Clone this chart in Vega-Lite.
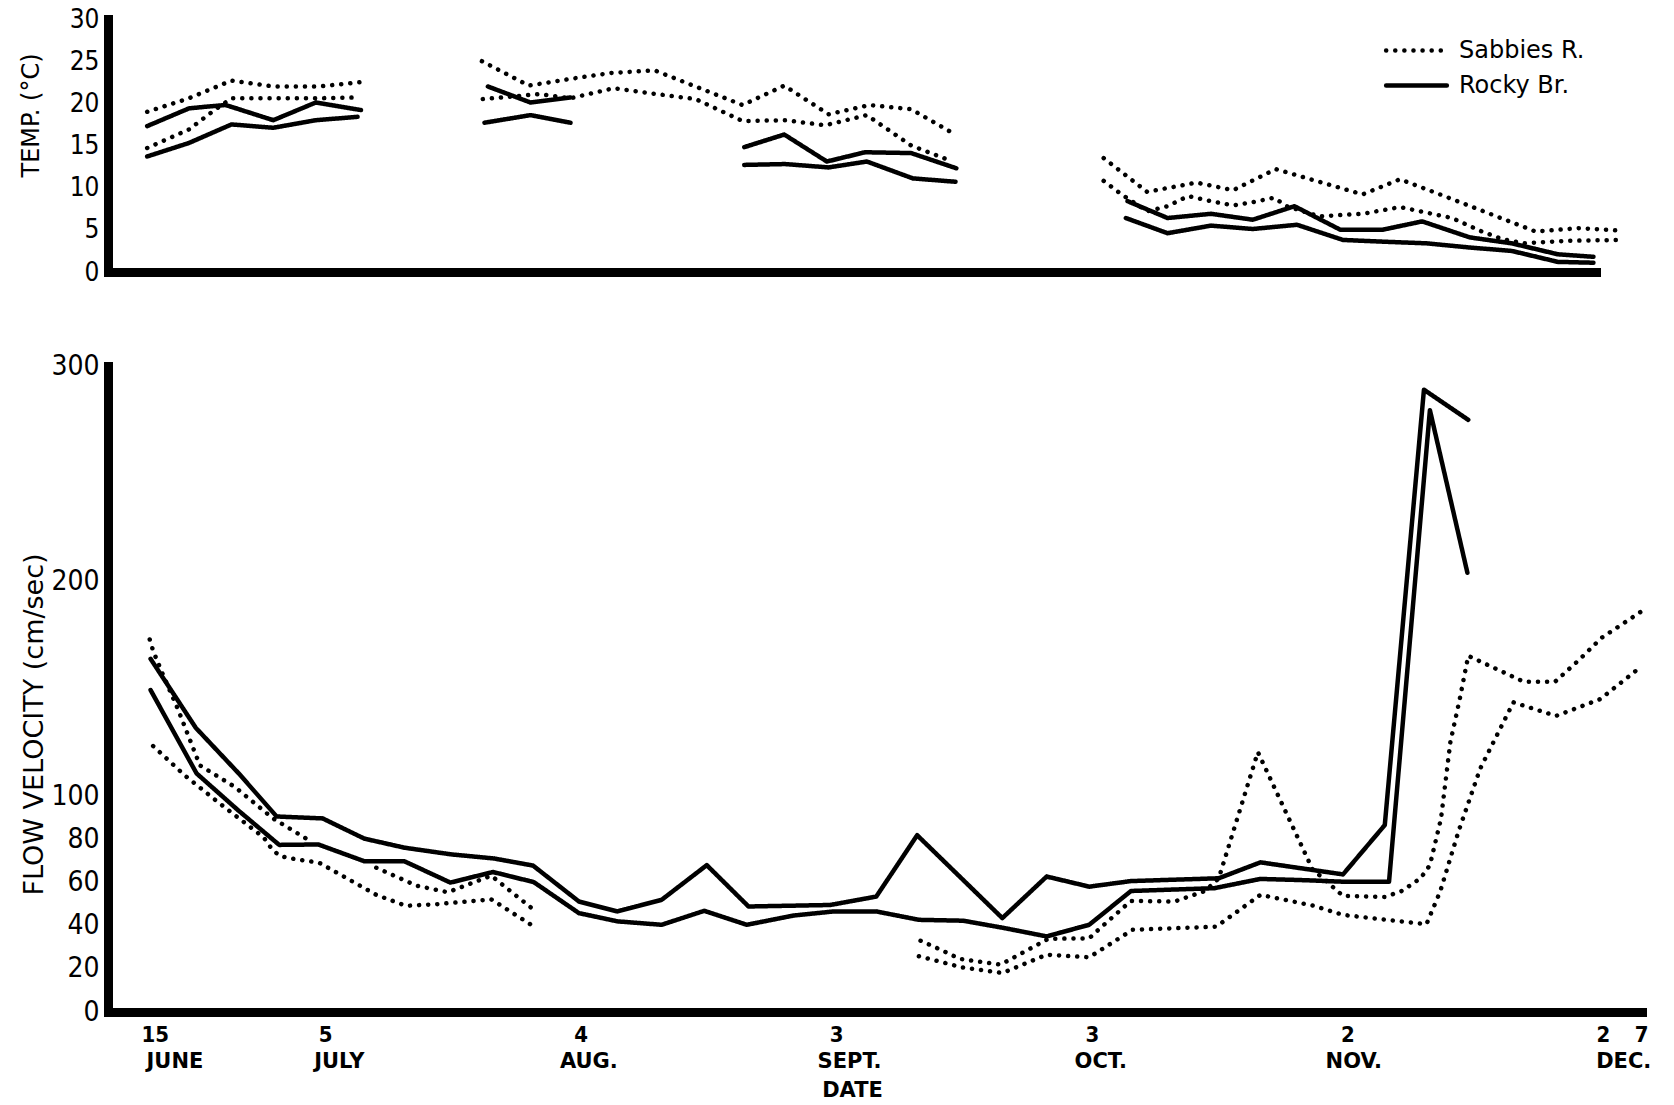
{
  "$schema": "https://vega.github.io/schema/vega-lite/v6.json",
  "background": "white",
  "padding": {"left": 19, "top": 6, "right": 5, "bottom": 5},
  "spacing": 67,
  "config": {
    "view": {"stroke": null},
    "font": "DejaVu Sans Condensed",
    "axis": {
      "grid": false, "ticks": false, "tickSize": 0,
      "domainColor": "black", "domainWidth": 9, "domainCap": "square",
      "labelColor": "black", "titleColor": "black",
      "labelFont": "DejaVu Sans Condensed", "titleFont": "DejaVu Sans"
    }
  },
  "datasets": {
    "temp": [
      {"s":"Su1","r":"Sabbies R.","d":-0.9,"t":19.0},{"s":"Su1","r":"Sabbies R.","d":4.0,"t":20.6},{"s":"Su1","r":"Sabbies R.","d":9.0,"t":22.7},{"s":"Su1","r":"Sabbies R.","d":13.9,"t":22.0},{"s":"Su1","r":"Sabbies R.","d":19.3,"t":22.0},{"s":"Su1","r":"Sabbies R.","d":24.1,"t":22.5},
      {"s":"Sl1","r":"Sabbies R.","d":-0.9,"t":14.7},{"s":"Sl1","r":"Sabbies R.","d":4.0,"t":16.9},{"s":"Sl1","r":"Sabbies R.","d":7.0,"t":19.2},{"s":"Sl1","r":"Sabbies R.","d":9.0,"t":20.6},{"s":"Sl1","r":"Sabbies R.","d":14.0,"t":20.6},{"s":"Sl1","r":"Sabbies R.","d":19.0,"t":20.6},{"s":"Sl1","r":"Sabbies R.","d":24.0,"t":20.7},
      {"s":"Su2","r":"Sabbies R.","d":38.4,"t":25.0},{"s":"Su2","r":"Sabbies R.","d":43.9,"t":22.1},{"s":"Su2","r":"Sabbies R.","d":48.8,"t":22.9},{"s":"Su2","r":"Sabbies R.","d":53.5,"t":23.6},{"s":"Su2","r":"Sabbies R.","d":58.7,"t":23.9},{"s":"Su2","r":"Sabbies R.","d":69.0,"t":19.8},{"s":"Su2","r":"Sabbies R.","d":73.9,"t":22.1},{"s":"Su2","r":"Sabbies R.","d":79.1,"t":18.7},{"s":"Su2","r":"Sabbies R.","d":83.9,"t":19.8},{"s":"Su2","r":"Sabbies R.","d":88.8,"t":19.3},{"s":"Su2","r":"Sabbies R.","d":93.8,"t":16.4},
      {"s":"Sl2","r":"Sabbies R.","d":38.5,"t":20.5},{"s":"Sl2","r":"Sabbies R.","d":45.2,"t":21.1},{"s":"Sl2","r":"Sabbies R.","d":48.8,"t":20.6},{"s":"Sl2","r":"Sabbies R.","d":53.9,"t":21.8},{"s":"Sl2","r":"Sabbies R.","d":58.9,"t":21.1},{"s":"Sl2","r":"Sabbies R.","d":63.5,"t":20.5},{"s":"Sl2","r":"Sabbies R.","d":69.0,"t":17.9},{"s":"Sl2","r":"Sabbies R.","d":74.0,"t":18.0},{"s":"Sl2","r":"Sabbies R.","d":78.7,"t":17.4},{"s":"Sl2","r":"Sabbies R.","d":83.6,"t":18.6},{"s":"Sl2","r":"Sabbies R.","d":88.8,"t":15.0},{"s":"Sl2","r":"Sabbies R.","d":93.4,"t":13.2},
      {"s":"Su3","r":"Sabbies R.","d":111.4,"t":13.5},{"s":"Su3","r":"Sabbies R.","d":116.5,"t":9.5},{"s":"Su3","r":"Sabbies R.","d":122.3,"t":10.6},{"s":"Su3","r":"Sabbies R.","d":126.6,"t":9.7},{"s":"Su3","r":"Sabbies R.","d":131.6,"t":12.2},{"s":"Su3","r":"Sabbies R.","d":141.8,"t":9.2},{"s":"Su3","r":"Sabbies R.","d":146.2,"t":11.0},{"s":"Su3","r":"Sabbies R.","d":151.4,"t":9.0},{"s":"Su3","r":"Sabbies R.","d":156.5,"t":7.0},{"s":"Su3","r":"Sabbies R.","d":162.1,"t":4.8},{"s":"Su3","r":"Sabbies R.","d":167.2,"t":5.2},{"s":"Su3","r":"Sabbies R.","d":172.2,"t":4.9},
      {"s":"Sl3","r":"Sabbies R.","d":111.4,"t":10.8},{"s":"Sl3","r":"Sabbies R.","d":113.5,"t":9.2},{"s":"Sl3","r":"Sabbies R.","d":116.5,"t":7.2},{"s":"Sl3","r":"Sabbies R.","d":118.9,"t":7.8},{"s":"Sl3","r":"Sabbies R.","d":121.3,"t":9.0},{"s":"Sl3","r":"Sabbies R.","d":124.0,"t":8.4},{"s":"Sl3","r":"Sabbies R.","d":126.6,"t":7.9},{"s":"Sl3","r":"Sabbies R.","d":129.0,"t":8.3},{"s":"Sl3","r":"Sabbies R.","d":131.4,"t":8.8},{"s":"Sl3","r":"Sabbies R.","d":132.9,"t":7.8},{"s":"Sl3","r":"Sabbies R.","d":136.7,"t":6.6},{"s":"Sl3","r":"Sabbies R.","d":141.8,"t":6.9},{"s":"Sl3","r":"Sabbies R.","d":146.2,"t":7.7},{"s":"Sl3","r":"Sabbies R.","d":152.3,"t":6.4},{"s":"Sl3","r":"Sabbies R.","d":155.8,"t":4.8},{"s":"Sl3","r":"Sabbies R.","d":158.2,"t":3.9},{"s":"Sl3","r":"Sabbies R.","d":160.7,"t":3.4},{"s":"Sl3","r":"Sabbies R.","d":165.9,"t":3.7},{"s":"Sl3","r":"Sabbies R.","d":171.7,"t":3.8},
      {"s":"Ru1","r":"Rocky Br.","d":-0.9,"t":17.3},{"s":"Ru1","r":"Rocky Br.","d":4.0,"t":19.4},{"s":"Ru1","r":"Rocky Br.","d":6.0,"t":19.6},{"s":"Ru1","r":"Rocky Br.","d":8.3,"t":19.8},{"s":"Ru1","r":"Rocky Br.","d":13.9,"t":18.0},{"s":"Ru1","r":"Rocky Br.","d":18.9,"t":20.1},{"s":"Ru1","r":"Rocky Br.","d":24.2,"t":19.2},
      {"s":"Rl1","r":"Rocky Br.","d":-0.9,"t":13.7},{"s":"Rl1","r":"Rocky Br.","d":4.0,"t":15.3},{"s":"Rl1","r":"Rocky Br.","d":9.0,"t":17.5},{"s":"Rl1","r":"Rocky Br.","d":13.9,"t":17.1},{"s":"Rl1","r":"Rocky Br.","d":18.9,"t":18.0},{"s":"Rl1","r":"Rocky Br.","d":23.8,"t":18.4},
      {"s":"Ru2","r":"Rocky Br.","d":39.1,"t":22.0},{"s":"Ru2","r":"Rocky Br.","d":44.1,"t":20.1},{"s":"Ru2","r":"Rocky Br.","d":48.8,"t":20.7},
      {"s":"Rl2","r":"Rocky Br.","d":38.7,"t":17.7},{"s":"Rl2","r":"Rocky Br.","d":44.1,"t":18.6},{"s":"Rl2","r":"Rocky Br.","d":48.8,"t":17.7},
      {"s":"Ru3","r":"Rocky Br.","d":69.2,"t":14.8},{"s":"Ru3","r":"Rocky Br.","d":73.9,"t":16.3},{"s":"Ru3","r":"Rocky Br.","d":78.9,"t":13.1},{"s":"Ru3","r":"Rocky Br.","d":83.4,"t":14.2},{"s":"Ru3","r":"Rocky Br.","d":88.8,"t":14.1},{"s":"Ru3","r":"Rocky Br.","d":94.1,"t":12.3},
      {"s":"Rl3","r":"Rocky Br.","d":69.2,"t":12.7},{"s":"Rl3","r":"Rocky Br.","d":74.0,"t":12.8},{"s":"Rl3","r":"Rocky Br.","d":79.1,"t":12.4},{"s":"Rl3","r":"Rocky Br.","d":83.6,"t":13.1},{"s":"Rl3","r":"Rocky Br.","d":89.0,"t":11.1},{"s":"Rl3","r":"Rocky Br.","d":94.0,"t":10.7},
      {"s":"Ru4","r":"Rocky Br.","d":114.2,"t":8.4},{"s":"Ru4","r":"Rocky Br.","d":118.9,"t":6.4},{"s":"Ru4","r":"Rocky Br.","d":124.0,"t":6.9},{"s":"Ru4","r":"Rocky Br.","d":128.9,"t":6.2},{"s":"Ru4","r":"Rocky Br.","d":133.8,"t":7.8},{"s":"Ru4","r":"Rocky Br.","d":139.2,"t":5.0},{"s":"Ru4","r":"Rocky Br.","d":144.1,"t":5.0},{"s":"Ru4","r":"Rocky Br.","d":148.8,"t":6.0},{"s":"Ru4","r":"Rocky Br.","d":154.4,"t":4.1},{"s":"Ru4","r":"Rocky Br.","d":159.3,"t":3.4},{"s":"Ru4","r":"Rocky Br.","d":164.7,"t":2.1},{"s":"Ru4","r":"Rocky Br.","d":168.9,"t":1.8},
      {"s":"Rl4","r":"Rocky Br.","d":114.0,"t":6.4},{"s":"Rl4","r":"Rocky Br.","d":118.9,"t":4.6},{"s":"Rl4","r":"Rocky Br.","d":124.0,"t":5.5},{"s":"Rl4","r":"Rocky Br.","d":128.9,"t":5.1},{"s":"Rl4","r":"Rocky Br.","d":134.1,"t":5.6},{"s":"Rl4","r":"Rocky Br.","d":139.5,"t":3.8},{"s":"Rl4","r":"Rocky Br.","d":144.1,"t":3.6},{"s":"Rl4","r":"Rocky Br.","d":149.3,"t":3.4},{"s":"Rl4","r":"Rocky Br.","d":154.4,"t":2.9},{"s":"Rl4","r":"Rocky Br.","d":159.3,"t":2.5},{"s":"Rl4","r":"Rocky Br.","d":164.7,"t":1.2},{"s":"Rl4","r":"Rocky Br.","d":168.9,"t":1.1}
    ],
    "flow": [
      {"s":"Ru","r":"Rocky Br.","d":-0.5,"v":164},{"s":"Ru","r":"Rocky Br.","d":4.8,"v":132},{"s":"Ru","r":"Rocky Br.","d":9.8,"v":111},{"s":"Ru","r":"Rocky Br.","d":14.3,"v":90.8},{"s":"Ru","r":"Rocky Br.","d":19.7,"v":89.9},{"s":"Ru","r":"Rocky Br.","d":24.6,"v":80.5},{"s":"Ru","r":"Rocky Br.","d":29.3,"v":76.3},{"s":"Ru","r":"Rocky Br.","d":34.8,"v":73.2},{"s":"Ru","r":"Rocky Br.","d":39.8,"v":71.3},{"s":"Ru","r":"Rocky Br.","d":44.4,"v":68.0},{"s":"Ru","r":"Rocky Br.","d":49.8,"v":51.3},{"s":"Ru","r":"Rocky Br.","d":54.3,"v":46.7},{"s":"Ru","r":"Rocky Br.","d":59.5,"v":52.1},{"s":"Ru","r":"Rocky Br.","d":64.8,"v":68.2},{"s":"Ru","r":"Rocky Br.","d":69.7,"v":49.0},{"s":"Ru","r":"Rocky Br.","d":79.3,"v":49.7},{"s":"Ru","r":"Rocky Br.","d":84.7,"v":53.6},{"s":"Ru","r":"Rocky Br.","d":89.5,"v":82.1},{"s":"Ru","r":"Rocky Br.","d":99.5,"v":43.6},{"s":"Ru","r":"Rocky Br.","d":104.7,"v":62.9},{"s":"Ru","r":"Rocky Br.","d":109.7,"v":58.2},{"s":"Ru","r":"Rocky Br.","d":114.6,"v":60.8},{"s":"Ru","r":"Rocky Br.","d":124.9,"v":62.1},{"s":"Ru","r":"Rocky Br.","d":129.8,"v":69.5},{"s":"Ru","r":"Rocky Br.","d":139.5,"v":63.9},{"s":"Ru","r":"Rocky Br.","d":144.4,"v":86.8},{"s":"Ru","r":"Rocky Br.","d":149.0,"v":289},{"s":"Ru","r":"Rocky Br.","d":154.2,"v":275},
      {"s":"Rl","r":"Rocky Br.","d":-0.5,"v":149.5},{"s":"Rl","r":"Rocky Br.","d":4.9,"v":110.8},{"s":"Rl","r":"Rocky Br.","d":9.8,"v":93.6},{"s":"Rl","r":"Rocky Br.","d":14.6,"v":77.6},{"s":"Rl","r":"Rocky Br.","d":19.2,"v":77.8},{"s":"Rl","r":"Rocky Br.","d":24.6,"v":70.0},{"s":"Rl","r":"Rocky Br.","d":29.3,"v":70.0},{"s":"Rl","r":"Rocky Br.","d":34.7,"v":60.1},{"s":"Rl","r":"Rocky Br.","d":39.7,"v":65.0},{"s":"Rl","r":"Rocky Br.","d":44.5,"v":60.3},{"s":"Rl","r":"Rocky Br.","d":49.8,"v":45.9},{"s":"Rl","r":"Rocky Br.","d":54.3,"v":42.1},{"s":"Rl","r":"Rocky Br.","d":59.5,"v":40.5},{"s":"Rl","r":"Rocky Br.","d":64.5,"v":47.0},{"s":"Rl","r":"Rocky Br.","d":69.5,"v":40.5},{"s":"Rl","r":"Rocky Br.","d":75.0,"v":44.8},{"s":"Rl","r":"Rocky Br.","d":79.7,"v":46.7},{"s":"Rl","r":"Rocky Br.","d":84.7,"v":46.7},{"s":"Rl","r":"Rocky Br.","d":89.7,"v":42.8},{"s":"Rl","r":"Rocky Br.","d":94.9,"v":42.4},{"s":"Rl","r":"Rocky Br.","d":99.7,"v":39.0},{"s":"Rl","r":"Rocky Br.","d":104.7,"v":35.1},{"s":"Rl","r":"Rocky Br.","d":109.7,"v":40.5},{"s":"Rl","r":"Rocky Br.","d":114.6,"v":56.2},{"s":"Rl","r":"Rocky Br.","d":124.4,"v":57.5},{"s":"Rl","r":"Rocky Br.","d":129.8,"v":61.8},{"s":"Rl","r":"Rocky Br.","d":135.1,"v":61.2},{"s":"Rl","r":"Rocky Br.","d":139.5,"v":60.5},{"s":"Rl","r":"Rocky Br.","d":144.9,"v":60.5},{"s":"Rl","r":"Rocky Br.","d":149.7,"v":279.5},{"s":"Rl","r":"Rocky Br.","d":154.1,"v":204},
      {"s":"Su1","r":"Sabbies R.","d":-0.6,"v":173},{"s":"Su1","r":"Sabbies R.","d":-0.2,"v":167.7},{"s":"Su1","r":"Sabbies R.","d":0.75,"v":158.5},{"s":"Su1","r":"Sabbies R.","d":2.7,"v":140.7},{"s":"Su1","r":"Sabbies R.","d":5.3,"v":114.5},{"s":"Su1","r":"Sabbies R.","d":9.4,"v":104.5},{"s":"Su1","r":"Sabbies R.","d":13.9,"v":89.8},{"s":"Su1","r":"Sabbies R.","d":18.0,"v":80.0},
      {"s":"Su2","r":"Sabbies R.","d":26.0,"v":67.0},{"s":"Su2","r":"Sabbies R.","d":30.7,"v":58.7},{"s":"Su2","r":"Sabbies R.","d":34.4,"v":55.6},{"s":"Su2","r":"Sabbies R.","d":39.5,"v":63.3},{"s":"Su2","r":"Sabbies R.","d":44.5,"v":47.4},
      {"s":"Sl1","r":"Sabbies R.","d":-0.2,"v":123.5},{"s":"Sl1","r":"Sabbies R.","d":3.5,"v":109.9},{"s":"Sl1","r":"Sabbies R.","d":7.4,"v":97.5},{"s":"Sl1","r":"Sabbies R.","d":12.8,"v":81},{"s":"Sl1","r":"Sabbies R.","d":13.7,"v":75.9},{"s":"Sl1","r":"Sabbies R.","d":14.6,"v":72.6},{"s":"Sl1","r":"Sabbies R.","d":15.8,"v":71.4},{"s":"Sl1","r":"Sabbies R.","d":19.3,"v":69.3},{"s":"Sl1","r":"Sabbies R.","d":26.0,"v":54.4},{"s":"Sl1","r":"Sabbies R.","d":29.5,"v":49.3},{"s":"Sl1","r":"Sabbies R.","d":33.2,"v":50.1},{"s":"Sl1","r":"Sabbies R.","d":39.5,"v":52.3},{"s":"Sl1","r":"Sabbies R.","d":44.5,"v":39.7},
      {"s":"Su3","r":"Sabbies R.","d":89.9,"v":33.1},{"s":"Su3","r":"Sabbies R.","d":92.1,"v":29.2},{"s":"Su3","r":"Sabbies R.","d":94.5,"v":24.7},{"s":"Su3","r":"Sabbies R.","d":99.3,"v":22.0},{"s":"Su3","r":"Sabbies R.","d":104.9,"v":34.0},{"s":"Su3","r":"Sabbies R.","d":109.7,"v":34.2},{"s":"Su3","r":"Sabbies R.","d":111.0,"v":39.0},{"s":"Su3","r":"Sabbies R.","d":114.6,"v":51.6},{"s":"Su3","r":"Sabbies R.","d":119.7,"v":51.3},{"s":"Su3","r":"Sabbies R.","d":123.3,"v":56.2},{"s":"Su3","r":"Sabbies R.","d":124.9,"v":62},{"s":"Su3","r":"Sabbies R.","d":129.5,"v":120.7},{"s":"Su3","r":"Sabbies R.","d":135.9,"v":66.4},{"s":"Su3","r":"Sabbies R.","d":139.5,"v":53.9},{"s":"Su3","r":"Sabbies R.","d":144.4,"v":53.4},{"s":"Su3","r":"Sabbies R.","d":146.4,"v":56.2},{"s":"Su3","r":"Sabbies R.","d":148.6,"v":62.1},{"s":"Su3","r":"Sabbies R.","d":149.7,"v":68.2},{"s":"Su3","r":"Sabbies R.","d":151.0,"v":89.8},{"s":"Su3","r":"Sabbies R.","d":152.1,"v":125.3},{"s":"Su3","r":"Sabbies R.","d":153.2,"v":145.3},{"s":"Su3","r":"Sabbies R.","d":154.2,"v":165.4},{"s":"Su3","r":"Sabbies R.","d":160.7,"v":153.4},{"s":"Su3","r":"Sabbies R.","d":164.4,"v":153.4},{"s":"Su3","r":"Sabbies R.","d":167.1,"v":163.1},{"s":"Su3","r":"Sabbies R.","d":169.9,"v":173.9},{"s":"Su3","r":"Sabbies R.","d":174.6,"v":186.2},
      {"s":"Sl2","r":"Sabbies R.","d":89.7,"v":25.9},{"s":"Sl2","r":"Sabbies R.","d":94.7,"v":20.8},{"s":"Sl2","r":"Sabbies R.","d":99.5,"v":18.1},{"s":"Sl2","r":"Sabbies R.","d":104.7,"v":26.6},{"s":"Sl2","r":"Sabbies R.","d":109.7,"v":25.4},{"s":"Sl2","r":"Sabbies R.","d":114.8,"v":38.2},{"s":"Sl2","r":"Sabbies R.","d":124.6,"v":39.6},{"s":"Sl2","r":"Sabbies R.","d":129.8,"v":54.4},{"s":"Sl2","r":"Sabbies R.","d":136.0,"v":49.4},{"s":"Sl2","r":"Sabbies R.","d":139.5,"v":45.1},{"s":"Sl2","r":"Sabbies R.","d":143.6,"v":43.3},{"s":"Sl2","r":"Sabbies R.","d":149.3,"v":40.8},{"s":"Sl2","r":"Sabbies R.","d":150.9,"v":55.9},{"s":"Sl2","r":"Sabbies R.","d":153.1,"v":84.4},{"s":"Sl2","r":"Sabbies R.","d":155.6,"v":113},{"s":"Sl2","r":"Sabbies R.","d":159.5,"v":143.8},{"s":"Sl2","r":"Sabbies R.","d":164.5,"v":137.5},{"s":"Sl2","r":"Sabbies R.","d":169.7,"v":145.3},{"s":"Sl2","r":"Sabbies R.","d":174.6,"v":160.7}
    ]
  },
  "vconcat": [
    {
      "width": 1488,
      "height": 253,
      "data": {"name": "temp"},
      "mark": {"type": "line", "color": "black", "strokeWidth": 4.5, "strokeCap": "round", "strokeJoin": "round"},
      "encoding": {
        "x": {"field": "d", "type": "quantitative", "scale": {"domain": [-5.5, 169.2], "nice": false, "zero": false},
              "axis": {"labels": false, "title": null}},
        "y": {"field": "t", "type": "quantitative", "scale": {"domain": [0, 30], "nice": false},
              "axis": {"values": [0, 5, 10, 15, 20, 25, 30], "title": "TEMP. (°C)", "labelFontSize": 26, "labelPadding": 9,
                       "titlePadding": 26, "titleFontSize": 24, "titleFontWeight": "normal", "titleY": 96}},
        "detail": {"field": "s", "type": "nominal"},
        "strokeDash": {"field": "r", "type": "nominal",
          "scale": {"domain": ["Sabbies R.", "Rocky Br."], "range": [[0.1, 9], [1, 0]]},
          "legend": {"orient": "none", "legendX": 1286, "legendY": 9, "title": null,
                     "symbolType": "M-1.5,0L1.5,0", "symbolSize": 1640, "symbolStrokeWidth": 4.5, "symbolStrokeColor": "black",
                     "symbolFillColor": "transparent",
                     "labelFont": "DejaVu Sans", "labelFontSize": 24, "labelColor": "black", "labelOffset": 20,
                     "rowPadding": -3,
                     "encoding": {"symbols": {"strokeCap": {"value": "round"}}}}}
      }
    },
    {
      "width": 1534,
      "height": 646,
      "data": {"name": "flow"},
      "layer": [
        {
          "mark": {"type": "line", "color": "black", "strokeWidth": 4.5, "strokeCap": "round", "strokeJoin": "round"},
          "encoding": {
            "x": {"field": "d", "type": "quantitative", "scale": {"domain": [-5.5, 174.6], "nice": false, "zero": false},
                  "axis": {"values": [0, 20, 50, 80, 110, 140, 170, 174.5],
                           "labelExpr": "datum.value == 0 ? '15' : datum.value == 20 ? '5' : datum.value == 50 ? '4' : datum.value == 80 ? '3' : datum.value == 110 ? '3' : datum.value == 140 ? '2' : datum.value == 170 ? '2' : '7'",
                           "labelOverlap": false, "labelBound": false, "labelFlush": false,
                           "labelPadding": 12, "labelFontSize": 22, "labelFontWeight": "bold", "labelBaseline": "top",
                           "title": null}},
            "y": {"field": "v", "type": "quantitative", "scale": {"domain": [0, 300], "nice": false},
                  "axis": {"values": [0, 20, 40, 60, 80, 100, 200, 300], "title": "FLOW VELOCITY (cm/sec)", "labelFontSize": 28, "labelPadding": 9,
                           "titlePadding": 2, "titleFontSize": 27, "titleFontWeight": "normal", "titleY": 358}},
            "detail": {"field": "s", "type": "nominal"},
            "strokeDash": {"field": "r", "type": "nominal",
              "scale": {"domain": ["Sabbies R.", "Rocky Br."], "range": [[0.1, 9], [1, 0]]},
              "legend": null}
          }
        },
        {
          "mark": {"type": "line", "opacity": 0},
          "encoding": {
            "x": {"field": "d", "type": "quantitative", "scale": {"domain": [-5.5, 174.6], "nice": false, "zero": false},
                  "axis": {"orient": "bottom", "domain": false, "values": [2.3, 21.6, 50.9, 81.5, 111, 140.7, 172.4],
                           "labelExpr": "datum.value == 2.3 ? 'JUNE' : datum.value == 21.6 ? 'JULY' : datum.value == 50.9 ? 'AUG.' : datum.value == 81.5 ? 'SEPT.' : datum.value == 111 ? 'OCT.' : datum.value == 140.7 ? 'NOV.' : 'DEC.'",
                           "labelOverlap": false, "labelBound": false, "labelFlush": false,
                           "labelFont": "DejaVu Sans",
                           "labelPadding": 38, "labelFontSize": 21, "labelFontWeight": "bold", "labelBaseline": "top",
                           "title": "DATE", "titleFont": "DejaVu Sans", "titleFontSize": 21, "titleFontWeight": "bold", "titlePadding": 8, "titleX": 744}},
            "y": {"field": "v", "type": "quantitative", "axis": null},
            "detail": {"field": "s", "type": "nominal"}
          }
        }
      ],
      "resolve": {"axis": {"x": "independent", "y": "independent"}}
    }
  ],
  "resolve": {"scale": {"strokeDash": "independent"}, "legend": {"strokeDash": "independent"}}
}
